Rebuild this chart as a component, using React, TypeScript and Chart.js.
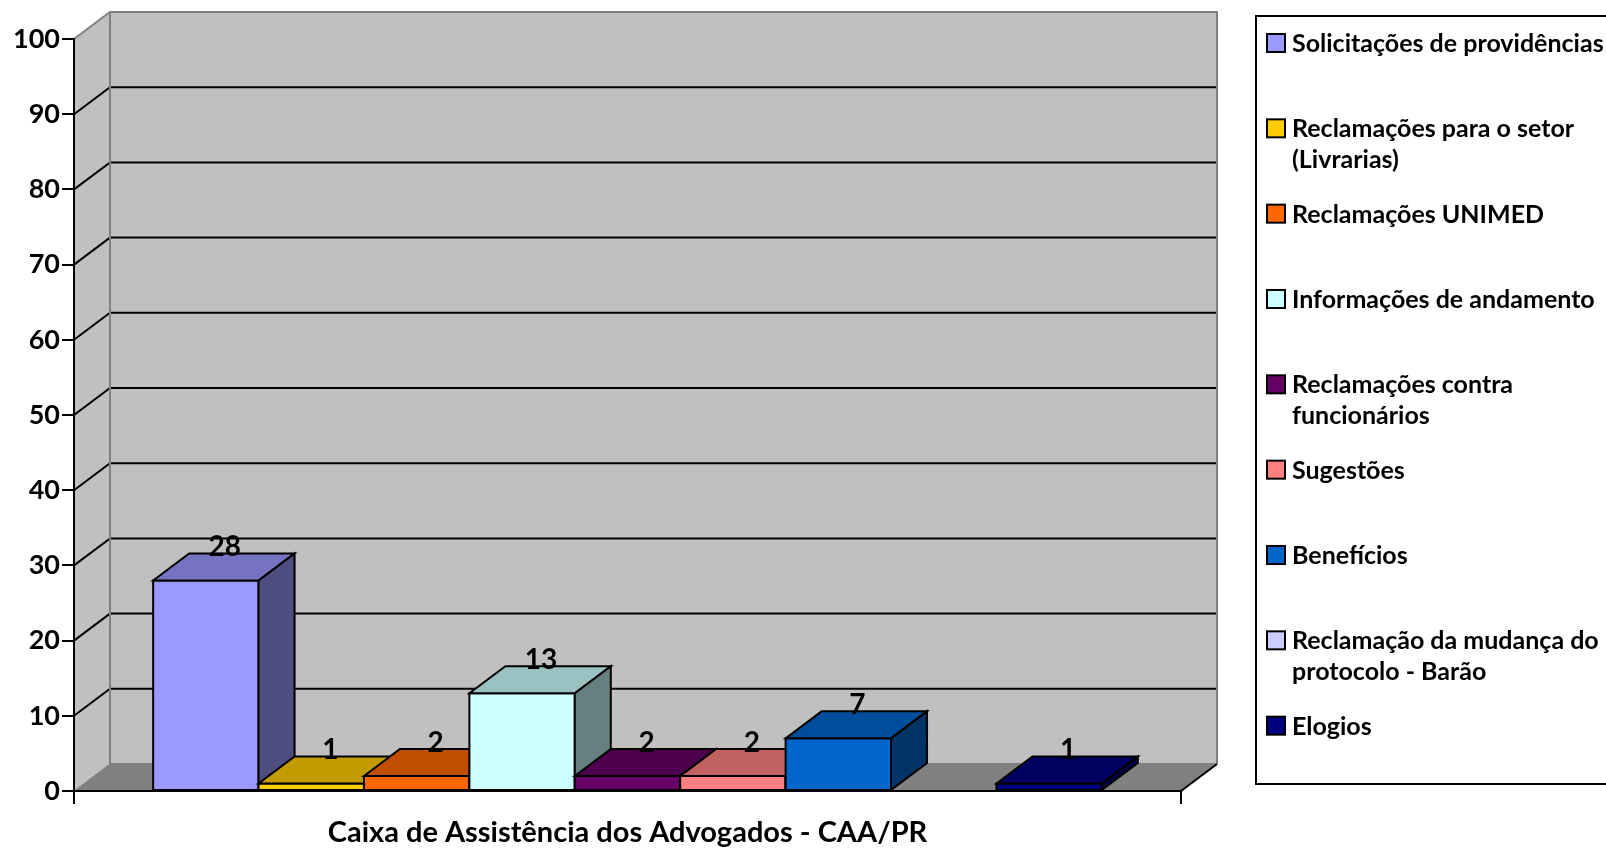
import React, { useEffect, useRef } from 'react';
import { Chart, registerables } from 'chart.js';

Chart.register(...registerables);

// ---- data ----
const CATEGORIES = ['Caixa de Assistência dos Advogados - CAA/PR'];
const SERIES_NAMES = [
  'Solicitações de providências',
  'Reclamações para o setor (Livrarias)',
  'Reclamações UNIMED',
  'Informações de andamento',
  'Reclamações contra funcionários',
  'Sugestões',
  'Benefícios',
  'Reclamação da mudança do protocolo - Barão',
  'Elogios',
];
const LEGEND_LINES = [
  ['Solicitações de providências'],
  ['Reclamações para o setor', '(Livrarias)'],
  ['Reclamações UNIMED'],
  ['Informações de andamento'],
  ['Reclamações contra', 'funcionários'],
  ['Sugestões'],
  ['Benefícios'],
  ['Reclamação da mudança do', 'protocolo - Barão'],
  ['Elogios'],
];
const SERIES_VALUES = [28, 1, 2, 13, 2, 2, 7, 0, 1];
const SERIES_COLORS = ['#9999FF', '#FFCC00', '#FF6600', '#CCFFFF', '#660066', '#FF8080', '#0066CC', '#CCCCFF', '#000080'];
const Y_MIN = 0;
const Y_MAX = 100;
const Y_STEP = 10;

// ---- style ----
const FONT = 'Lato, "DejaVu Sans", sans-serif';
const DX = 36;
const DY = 27;
const WALL = '#C0C0C0';
const FLOOR = '#808080';
const EDGE = '#808080';

function shade(hex: string, f: number) {
  const n = parseInt(hex.slice(1), 16);
  const r = Math.round(((n >> 16) & 255) * f);
  const g = Math.round(((n >> 8) & 255) * f);
  const b = Math.round((n & 255) * f);
  return `rgb(${r},${g},${b})`;
}

function poly(ctx: CanvasRenderingContext2D, pts: number[][], fill?: string, stroke?: string, lw = 2) {
  ctx.beginPath();
  ctx.moveTo(pts[0][0], pts[0][1]);
  for (let i = 1; i < pts.length; i++) ctx.lineTo(pts[i][0], pts[i][1]);
  ctx.closePath();
  if (fill) {
    ctx.fillStyle = fill;
    ctx.fill();
  }
  if (stroke) {
    ctx.strokeStyle = stroke;
    ctx.lineWidth = lw;
    ctx.stroke();
  }
}

function line(ctx: CanvasRenderingContext2D, pts: number[][], color: string, lw = 2) {
  ctx.beginPath();
  ctx.moveTo(pts[0][0], pts[0][1]);
  for (let i = 1; i < pts.length; i++) ctx.lineTo(pts[i][0], pts[i][1]);
  ctx.strokeStyle = color;
  ctx.lineWidth = lw;
  ctx.stroke();
}

const wallsPlugin = {
  id: 'walls3d',
  beforeDraw(chart: any) {
    const { ctx, chartArea: ca, scales } = chart;
    const y = scales.y;
    const L = ca.left;
    const R = ca.right;
    const T = y.getPixelForValue(Y_MAX);
    const B = y.getPixelForValue(Y_MIN);
    ctx.save();
    ctx.lineJoin = 'miter';
    // back wall
    ctx.fillStyle = WALL;
    ctx.fillRect(L + DX, T - DY, R - L, B - T);
    // left wall
    poly(ctx, [[L, T], [L + DX, T - DY], [L + DX, B - DY], [L, B]], WALL);
    // floor
    poly(ctx, [[L, B], [L + DX, B - DY], [R + DX, B - DY], [R, B]], FLOOR);
    // gridlines
    for (const t of y.ticks) {
      const v = t.value;
      if (v <= Y_MIN || v >= Y_MAX) continue;
      const py = y.getPixelForValue(v);
      line(ctx, [[L, py], [L + DX, py - DY], [R + DX, py - DY]], '#000', 2);
    }
    // wall edges
    line(ctx, [[L, T], [L + DX, T - DY], [R + DX, T - DY], [R + DX, B - DY]], EDGE, 2);
    line(ctx, [[L + DX, T - DY], [L + DX, B - DY], [R + DX, B - DY]], EDGE, 2);
    line(ctx, [[L, B], [L + DX, B - DY]], EDGE, 1);
    line(ctx, [[R, B], [R + DX, B - DY]], '#000', 2);
    ctx.restore();
  },
};

const barsPlugin = {
  id: 'bars3d',
  afterDatasetsDraw(chart: any) {
    const { ctx } = chart;
    ctx.save();
    ctx.lineJoin = 'miter';
    const labels: any[] = [];
    chart.data.datasets.forEach((ds: any, i: number) => {
      const meta = chart.getDatasetMeta(i);
      const el = meta.data[0];
      const value = ds.data[0];
      if (!el || !(value > 0)) return;
      const { x, y, base, width } = el.getProps(['x', 'y', 'base', 'width'], true);
      const l = x - width / 2;
      const r = x + width / 2;
      const color = SERIES_COLORS[i];
      // front
      poly(ctx, [[l, y], [r, y], [r, base], [l, base]], color, '#000', 2);
      // top
      poly(ctx, [[l, y], [l + DX, y - DY], [r + DX, y - DY], [r, y]], shade(color, 0.76), '#000', 2);
      // side
      poly(ctx, [[r, y], [r + DX, y - DY], [r + DX, base - DY], [r, base]], shade(color, 0.5), '#000', 2);
      labels.push({ x: x + DX / 2 + 1, y: y - DY + 3, text: String(value) });
    });
    ctx.fillStyle = '#000';
    ctx.font = `bold 28px ${FONT}`;
    ctx.textAlign = 'center';
    ctx.textBaseline = 'alphabetic';
    for (const lb of labels) ctx.fillText(lb.text, lb.x, lb.y);
    ctx.restore();
  },
};

const legendPlugin = {
  id: 'legendBox',
  afterDraw(chart: any) {
    const { ctx, chartArea: ca } = chart;
    const left = ca.right + DX + 39;
    const top = 16;
    const bottom = 784;
    const slot = (bottom - top) / SERIES_NAMES.length;
    ctx.save();
    ctx.strokeStyle = '#000';
    ctx.lineWidth = 2;
    ctx.strokeRect(left, top, chart.width - left + 20, bottom - top);
    ctx.font = `bold 25px ${FONT}`;
    ctx.textAlign = 'left';
    ctx.textBaseline = 'middle';
    SERIES_NAMES.forEach((name, i) => {
      const cy = top + 27 + i * slot;
      ctx.fillStyle = SERIES_COLORS[i];
      ctx.fillRect(left + 11, cy - 9, 18, 18);
      ctx.strokeStyle = '#000';
      ctx.lineWidth = 2;
      ctx.strokeRect(left + 11, cy - 9, 18, 18);
      ctx.fillStyle = '#000';
      LEGEND_LINES[i].forEach((t, k) => ctx.fillText(t, left + 36, cy + 1 + k * 31));
    });
    ctx.restore();
  },
};

export default function App() {
  const ref = useRef<HTMLCanvasElement>(null);
  useEffect(() => {
    const chart = new Chart(ref.current as HTMLCanvasElement, {
      type: 'bar',
      data: {
        labels: CATEGORIES,
        datasets: SERIES_NAMES.map((name, i) => ({
          label: name,
          data: [SERIES_VALUES[i]],
          backgroundColor: SERIES_COLORS[i],
          borderColor: '#000',
          borderWidth: 0,
          categoryPercentage: 0.857,
          barPercentage: 1,
        })),
      },
      options: {
        responsive: false,
        animation: false,
        devicePixelRatio: 1,
        layout: { padding: { left: 0, top: 39, right: 425, bottom: 0 } },
        plugins: { legend: { display: false }, tooltip: { enabled: false } },
        scales: {
          x: {
            type: 'category',
            offset: true,
            grid: { offset: true, drawOnChartArea: false, drawTicks: true, tickLength: 13, color: '#000', lineWidth: 2 },
            border: { display: true, color: '#000', width: 2 },
            ticks: {
              color: '#000',
              font: { family: FONT, weight: 'bold', size: 29 },
              padding: 11,
              maxRotation: 0,
              autoSkip: false,
            },
            afterFit: (s: any) => {
              s.height = 59;
            },
          },
          y: {
            min: Y_MIN,
            max: Y_MAX,
            ticks: { stepSize: Y_STEP, color: '#000', font: { family: FONT, weight: 'bold', size: 27 }, padding: 2 },
            grid: { drawOnChartArea: false, tickLength: 12, color: '#000', lineWidth: 2 },
            border: { display: true, color: '#000', width: 2 },
            afterFit: (s: any) => {
              s.width = 74;
            },
          },
        },
      } as any,
      plugins: [wallsPlugin, barsPlugin, legendPlugin],
    });
    return () => chart.destroy();
  }, []);
  return (
    <div style={{ position: 'fixed', left: 0, top: 0, width: 1606, height: 850, background: '#fff' }}>
      <canvas ref={ref} width={1606} height={850} style={{ display: 'block' }} />
    </div>
  );
}
